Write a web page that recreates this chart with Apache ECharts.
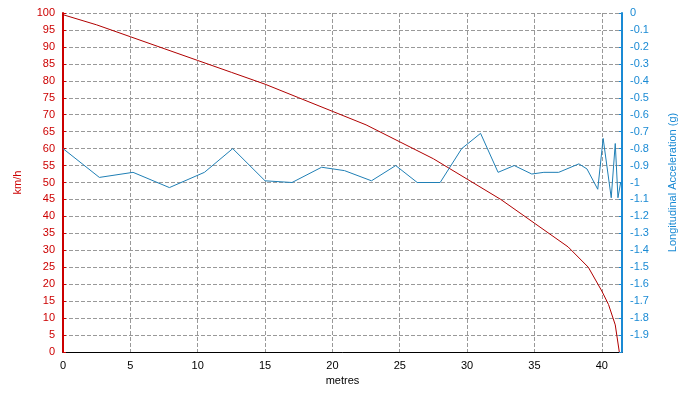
<!DOCTYPE html><html><head><meta charset="utf-8"><script src="https://cdn.jsdelivr.net/npm/echarts@6/dist/echarts.min.js"></script></head><body style="margin:0;background:#fff"><div id="c" style="width:700px;height:400px"></div><script>
const speedX=[0,2.5,5,7.5,10,12.5,15,17.5,20,22.5,25,27.5,30,32.5,35,37.5,39,40,40.5,41,41.3];
const speedY=[99.5,96.5,93,89.5,86,82.5,79,75,71,67,62,57,51,45,38,31,25,18,14,8,0];
const accX=[0,2.7,5.2,7.9,10.5,12.6,15,17,19.2,20.9,22.9,24.7,26.3,28,29.6,31,32.3,33.5,34.8,35.7,36.8,38.3,38.9,39.7,40.1,40.7,41,41.2,41.4];
const accY=[-0.80,-0.97,-0.94,-1.03,-0.94,-0.80,-0.99,-1.0,-0.91,-0.93,-0.99,-0.90,-1.0,-1.0,-0.80,-0.71,-0.94,-0.90,-0.95,-0.94,-0.94,-0.89,-0.92,-1.04,-0.74,-1.09,-0.77,-1.09,-1.0];
const red='#cc0000',blue='#1a8ad4';
const grid={type:'dashed',color:'#999'};
const ch=echarts.init(document.getElementById('c'));
ch.setOption({animation:false,
grid:{left:63,right:78,top:13,bottom:48},
xAxis:{type:'value',min:0,max:41.5,interval:5,name:'metres',nameLocation:'middle',nameGap:22,
 nameTextStyle:{color:'#000',fontFamily:'Liberation Sans',fontSize:11},
 axisLine:{lineStyle:{color:'#000'}},axisTick:{show:false},splitLine:{lineStyle:grid},
 axisLabel:{color:'#000',fontFamily:'Liberation Sans',fontSize:11,showMaxLabel:false}},
yAxis:[{type:'value',min:0,max:100,interval:5,name:'km/h',nameLocation:'middle',nameGap:40,
 nameTextStyle:{color:red,fontFamily:'Liberation Sans',fontSize:11},
 axisLine:{show:true,lineStyle:{color:red,width:2}},axisTick:{show:true,length:3,inside:true},
 splitLine:{lineStyle:grid},axisLabel:{color:red,fontFamily:'Liberation Sans',fontSize:11}},
 {type:'value',min:-2,max:0,interval:0.1,name:'Longitudinal Acceleration (g)',nameLocation:'middle',nameGap:45,
 nameTextStyle:{color:blue,fontFamily:'Liberation Sans',fontSize:11},
 axisLine:{show:true,lineStyle:{color:blue,width:2}},axisTick:{show:true,length:3,inside:true},
 splitLine:{show:false},axisLabel:{color:blue,fontFamily:'Liberation Sans',fontSize:11,
 formatter:v=>Math.abs(v+2)<1e-6?'':String(Math.round(v*10)/10)}}],
series:[{type:'line',yAxisIndex:0,data:speedX.map((x,i)=>[x,speedY[i]]),showSymbol:false,lineStyle:{color:'#b00000',width:1}},
{type:'line',yAxisIndex:1,data:accX.map((x,i)=>[x,accY[i]]),showSymbol:false,lineStyle:{color:'#1f7fb5',width:1}}]});
</script></body></html>
